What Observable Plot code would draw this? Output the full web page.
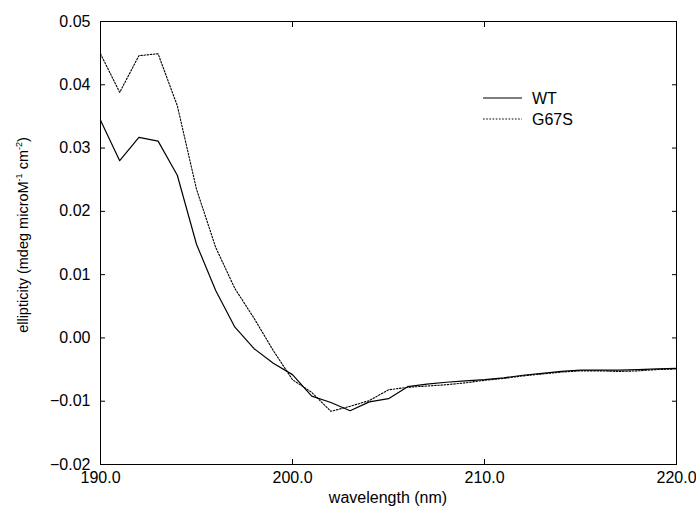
<!DOCTYPE html>
<html>
<head>
<meta charset="utf-8">
<script src="https://cdn.jsdelivr.net/npm/d3@7"></script>
<script src="https://cdn.jsdelivr.net/npm/@observablehq/plot@0.6"></script>
<style>
  html, body { margin: 0; padding: 0; background: #fff; }
  #chart { position: relative; width: 696px; height: 508px; overflow: hidden; }
</style>
</head>
<body>
<div id="chart"></div>
<script>
const wavelength = [190,191,192,193,194,195,196,197,198,199,200,201,202,203,204,205,206,207,208,209,210,211,212,213,214,215,216,217,218,219,220];
const wt = [0.0344,0.0280,0.0317,0.0311,0.0257,0.0148,0.0075,0.0017,-0.0017,-0.0040,-0.0058,-0.0092,-0.0102,-0.0115,-0.0101,-0.0096,-0.0077,-0.0073,-0.0070,-0.0068,-0.0066,-0.0063,-0.0059,-0.0056,-0.0053,-0.0051,-0.0051,-0.0051,-0.0050,-0.0049,-0.0048];
const g67s = [0.0449,0.0388,0.0446,0.0449,0.0367,0.0235,0.0143,0.0078,0.0031,-0.0020,-0.0066,-0.0086,-0.0116,-0.0108,-0.0099,-0.0082,-0.0078,-0.0076,-0.0074,-0.0071,-0.0067,-0.0064,-0.0060,-0.0057,-0.0054,-0.0052,-0.0052,-0.0053,-0.0052,-0.0050,-0.0049];
const seriesNames = ["WT", "G67S"];
const xTicks = [190, 200, 210, 220];
const yTicks = [-0.02, -0.01, 0.00, 0.01, 0.02, 0.03, 0.04, 0.05];
const xLabel = "wavelength (nm)";

const rows = [];
wavelength.forEach((w, i) => {
  rows.push({w, v: wt[i], s: seriesNames[0]});
  rows.push({w, v: g67s[i], s: seriesNames[1]});
});

const font = "'Liberation Sans', Arial, Helvetica, sans-serif";

const chart = Plot.plot({
  width: 696,
  height: 508,
  marginLeft: 100,
  marginRight: 20,
  marginTop: 21,
  marginBottom: 44,
  style: {fontFamily: font, fontSize: "16px", color: "#000", background: "#fff"},
  x: {domain: [190, 220], ticks: xTicks, tickFormat: d3.format(".1f")},
  y: {domain: [-0.02, 0.05], ticks: yTicks, tickFormat: d3.format(".2f")},
  marks: [
    Plot.frame({stroke: "#000", strokeWidth: 1}),
    Plot.axisX({anchor: "bottom", ticks: xTicks, tickSize: -5, tickPadding: 12, tickFormat: d3.format(".1f"), label: null, fontSize: 16}),
    Plot.axisX({anchor: "top", ticks: xTicks, tickSize: -5, tickFormat: () => "", label: null}),
    Plot.axisY({anchor: "left", ticks: yTicks, tickSize: -5, tickPadding: 15, tickFormat: d3.format(".2f"), label: null, fontSize: 16}),
    Plot.axisY({anchor: "right", ticks: yTicks, tickSize: -5, tickFormat: () => "", label: null}),
    Plot.line(rows.filter(d => d.s === "WT"), {x: "w", y: "v", stroke: "#000", strokeWidth: 1.2}),
    Plot.line(rows.filter(d => d.s === "G67S"), {x: "w", y: "v", stroke: "#000", strokeWidth: 1.1, strokeDasharray: "1.6,1.6"})
  ]
});

document.getElementById("chart").appendChild(chart);

const svg = d3.select(chart);
// x label
svg.append("text")
  .attr("x", 388).attr("y", 503)
  .attr("text-anchor", "middle")
  .attr("font-family", font).attr("font-size", 16).attr("fill", "#000")
  .text(xLabel);
// y label with superscripts
const yl = svg.append("text")
  .attr("transform", "translate(28,235) rotate(-90)")
  .attr("text-anchor", "middle")
  .attr("font-family", font).attr("font-size", 14.5).attr("fill", "#000");
yl.append("tspan").text("ellipticity (mdeg microM");
yl.append("tspan").attr("font-size", 9).attr("dy", -6).text("-1");
yl.append("tspan").attr("dy", 6).text(" cm");
yl.append("tspan").attr("font-size", 9).attr("dy", -6).text("-2");
yl.append("tspan").attr("dy", 6).text(")");
// legend
const lg = svg.append("g");
seriesNames.forEach((name, i) => {
  const y = 98 + i * 21;
  lg.append("line").attr("x1", 483).attr("x2", 522).attr("y1", y).attr("y2", y)
    .attr("stroke", "#000").attr("stroke-width", i === 0 ? 1.2 : 1.1)
    .attr("stroke-dasharray", i === 0 ? null : "1.6,1.6");
  lg.append("text").attr("x", 532).attr("y", y + 6)
    .attr("text-anchor", "start")
    .attr("font-family", font).attr("font-size", 16).attr("fill", "#000")
    .text(name);
});
</script>
</body>
</html>
